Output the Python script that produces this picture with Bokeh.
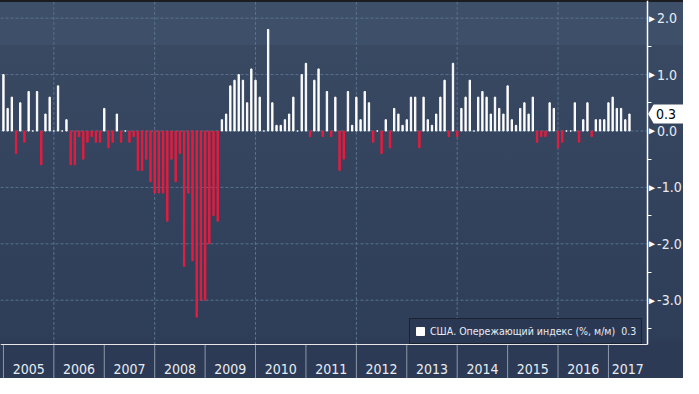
import numpy as np
from bokeh.plotting import figure
from bokeh.models import (ColumnDataSource, FixedTicker, Range1d, PrintfTickFormatter,
                          Legend, LegendItem, Label, LabelSet, PolyAnnotation)
from bokeh.embed import file_html
from bokeh.resources import INLINE

# ---- data (monthly, % m/m), first bar = Dec 2004 ----
values = [
    1.0, 0.4, 0.6, -0.4, 0.5, -0.2, 0.7, 0.0, 0.7, -0.6, 0.3, 0.6,
    0.0, 0.8, 0.0, 0.2, -0.6, -0.6, -0.1, -0.5, -0.2, -0.1, -0.2, -0.2,
    0.4, -0.3, -0.2, 0.3, -0.2, 0.0, -0.2, -0.1, -0.7, -0.7, -0.5, -0.9,
    -1.1, -1.1, -1.1, -1.6, -0.5, -0.9, -0.4, -2.4, -1.1, -2.3, -3.3, -3.0,
    -3.0, -2.0, -1.5, -1.6, 0.2, 0.3, 0.8, 0.9, 1.0, 0.9, 0.5, 1.1,
    0.9, 0.6, 0.0, 1.8, 0.5, 0.1, 0.1, 0.2, 0.3, 0.6, 0.0, 1.0,
    1.2, -0.1, 0.9, 1.1, -0.1, 0.7, -0.1, 0.6, -0.7, -0.5, 0.7, 0.1,
    0.6, 0.2, 0.7, 0.5, -0.2, 0.0, -0.4, 0.2, -0.3, 0.4, 0.3, 0.1,
    0.2, 0.6, 0.6, -0.3, 0.6, 0.2, 0.1, 0.3, 0.6, 0.9, -0.1, 1.2,
    -0.1, 0.4, 0.6, 0.9, 0.0, 0.6, 0.7, 0.6, 0.3, 0.6, 0.4, 0.3,
    0.8, 0.2, 0.1, 0.4, 0.5, 0.3, 0.6, -0.2, -0.1, -0.1, 0.5, 0.4,
    -0.3, -0.2, 0.0, 0.0, 0.5, -0.2, 0.2, 0.5, -0.1, 0.2, 0.2, 0.2,
    0.5, 0.6, 0.4, 0.4, 0.2, 0.3,
]
years = ["2005", "2006", "2007", "2008", "2009", "2010", "2011",
         "2012", "2013", "2014", "2015", "2016", "2017"]
y_ticks = [-3.0, -2.0, -1.0, 0.0, 1.0, 2.0]
y_minor = [-3.5, -2.5, -1.5, -0.5, 0.5, 1.5]
series_name = "США. Опережающий индекс (%, м/м)"

# ---- layout / styling ----
W, H = 683, 378
FONT = "DejaVu Sans Condensed"
WHITE = "#ffffff"
RED = "#ec1a3d"
TEXT = "#e8ecf2"
GRID = "#587390"

# frame covers the whole figure; axes are pinned inside it
x_start, x_axis = -0.70, 153.2          # left edge, right axis position (months)
px_x = (646.6 - 0.0) / (x_axis - x_start)
x_right = x_axis + (W - 646.6) / px_x
y_top, y_axis = 2.313, -3.792           # top edge, bottom axis position
px_y = 344.4 / (y_top - y_axis)
y_bottom = y_axis - (H - 344.4) / px_y

x = np.arange(len(values))
colors = [WHITE if v >= 0 else RED for v in values]
src = ColumnDataSource(dict(x=x, top=values, color=colors))

p = figure(width=W, height=H, output_backend="svg", toolbar_location=None,
           x_range=Range1d(x_start, x_right), y_range=Range1d(y_bottom, y_top),
           y_axis_location="right",
           min_border_left=0, min_border_top=0, min_border_right=0, min_border_bottom=0)

p.background_fill_alpha = 0
p.border_fill_alpha = 0
p.outline_line_color = None
p.xgrid.visible = False
p.ygrid.visible = False
p.styles = {"background": "linear-gradient(to bottom, #1c1d20 0px, #1c1d20 2px, "
                          "#3e4f69 2px, #3e4f69 45px, #394962 45px, #2e3d58 338px, "
                          "#2c3a55 344px, #2c3a55 100%)"}

# dashed grid, limited to the plotting area
boundaries = [12 * k for k in range(len(years))]
vgrid = boundaries[1::2]
p.segment(x0=[x_start] * len(y_ticks), x1=[x_axis] * len(y_ticks), y0=y_ticks, y1=y_ticks,
          line_color=GRID, line_dash="3 2", line_width=1)
p.segment(x0=vgrid, x1=vgrid, y0=[y_axis] * len(vgrid), y1=[y_top] * len(vgrid),
          line_color=GRID, line_dash="3 2", line_width=1)

# year separators below the axis
p.segment(x0=boundaries, x1=boundaries, y0=[y_axis] * len(boundaries),
          y1=[y_bottom] * len(boundaries), line_color="#8e98a9", line_width=1)

r = p.vbar(x="x", top="top", bottom=0, width=0.32, source=src,
           fill_color="color", line_color="color", line_width=1)

# bottom axis: year labels centred in each year
label_pos = [float(b + 6) for b in boundaries[:-1]] + [(boundaries[-1] + x_axis) / 2.0]
xa = p.xaxis[0]
xa.fixed_location = y_axis
xa.bounds = (x_start, x_axis)
xa.ticker = FixedTicker(ticks=label_pos, minor_ticks=[])
xa.major_label_overrides = {pos: yr for pos, yr in zip(label_pos, years)}
xa.major_tick_line_color = None
xa.minor_tick_line_color = None
xa.major_tick_out = 0
xa.major_tick_in = 0
xa.axis_line_color = "#e6e6e6"
xa.major_label_text_color = TEXT
xa.major_label_text_font = FONT
xa.major_label_text_font_size = "14px"
xa.major_label_standoff = 19

# right axis
ya = p.yaxis[0]
ya.fixed_location = x_axis
ya.bounds = (y_axis, y_top)
ya.ticker = FixedTicker(ticks=y_ticks, minor_ticks=y_minor)
ya.formatter = PrintfTickFormatter(format="%.1f")
ya.axis_line_color = WHITE
ya.axis_line_width = 1.5
ya.major_tick_out = 9
ya.major_tick_in = 0
ya.major_tick_line_color = None
ya.minor_tick_out = 4
ya.minor_tick_in = 0
ya.minor_tick_line_color = WHITE
ya.major_label_standoff = 1
ya.major_label_text_color = TEXT
ya.major_label_text_font = FONT
ya.major_label_text_font_size = "14px"

# triangle markers on the right axis ticks
tri_src = ColumnDataSource(dict(x=[x_axis] * len(y_ticks), y=y_ticks, t=["►"] * len(y_ticks)))
p.add_layout(LabelSet(x="x", y="y", text="t", source=tri_src, text_color=WHITE,
                      text_font="DejaVu Sans", text_font_size="10px",
                      text_baseline="middle", text_align="left", x_offset=0))

# last value callout
last = values[-1]
dx = lambda px: x_axis + px / px_x
dy = lambda px: last + px / px_y
p.add_layout(PolyAnnotation(xs=[dx(1), dx(6.5), dx(60), dx(60), dx(6.5)],
                            ys=[dy(0), dy(9.5), dy(9.5), dy(-9.5), dy(-9.5)],
                            fill_color=WHITE, fill_alpha=1, line_color=None))
p.add_layout(Label(x=x_axis, y=last, text=f"{last:.1f}", x_offset=9,
                   text_color="#000000", text_font=FONT, text_font_size="14px",
                   text_baseline="middle", text_align="left"))

# legend
legend = Legend(items=[LegendItem(label=f"{series_name}  {last:.1f}", renderers=[r], index=0)],
                location=(409, 34.5))
legend.background_fill_color = "#2b3853"
legend.background_fill_alpha = 1
legend.border_line_color = "#0b0b0d"
legend.border_line_width = 1
legend.label_text_color = TEXT
legend.label_text_font = FONT
legend.label_text_font_size = "10.5px"
legend.glyph_width = 10
legend.glyph_height = 10
legend.label_height = 14
legend.padding = 5
legend.margin = 0
legend.spacing = 0
legend.label_standoff = 5
p.add_layout(legend)

open("out.html", "w").write(file_html(p, INLINE))
